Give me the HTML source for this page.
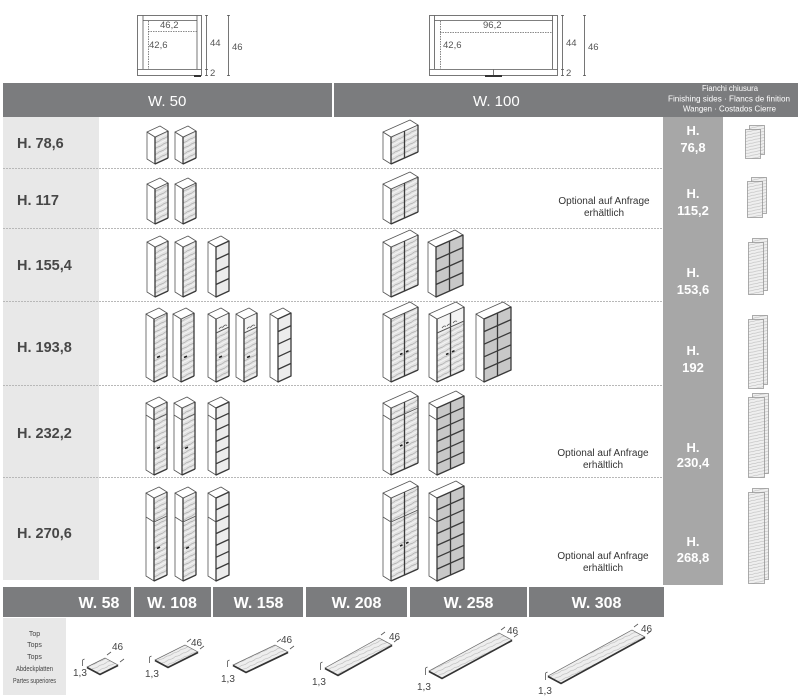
<!DOCTYPE html>
<html><head><meta charset="utf-8"><style>
html,body{margin:0;padding:0;background:#fff}
svg{display:block;font-family:"Liberation Sans",Arial,sans-serif}
.o{stroke:#555;stroke-width:.8;stroke-linejoin:round}
.e{stroke:#3a3a3a;stroke-width:1.3;fill:none}
.hd{stroke:#222;stroke-width:1.6;fill:none}
.dl{stroke:#555;stroke-width:.8;fill:none}
.dt{stroke:#666;stroke-width:.8;stroke-dasharray:1.5 1;fill:none}
.sep{stroke:#b8b8b8;stroke-width:1;stroke-dasharray:2 1}
.pn{stroke:#8c8c8c;stroke-width:.7}
.bd{stroke:#666;stroke-width:.7}
.be{stroke:#333;stroke-width:1.6;fill:none}
</style></head><body>
<svg width="800" height="696" viewBox="0 0 800 696" xmlns="http://www.w3.org/2000/svg">
<defs>
<pattern id="hw" width="8" height="5" patternUnits="userSpaceOnUse" patternTransform="rotate(-28)">
<rect width="8" height="5" fill="#e2e2e2"/>
<path d="M0 1.5C2 .5 4 2.5 8 1.5" stroke="#9a9a9a" stroke-width=".6" fill="none"/>
<path d="M0 3.8H8" stroke="#fafafa" stroke-width=".8"/>
</pattern>
<pattern id="ht" width="8" height="4" patternUnits="userSpaceOnUse" patternTransform="rotate(-25)">
<rect width="8" height="4" fill="#eeeeee"/>
<path d="M0 1.5C2 .5 4 2.5 8 1.5" stroke="#aaa" stroke-width=".5" fill="none"/>
</pattern>
<pattern id="hp" width="6" height="3" patternUnits="userSpaceOnUse" patternTransform="rotate(-12)">
<rect width="6" height="3" fill="#efefef"/>
<path d="M0 1.2C2 .6 4 1.8 6 1.2" stroke="#b3b3b3" stroke-width=".5" fill="none"/>
</pattern>
</defs>

<!-- top plan diagrams -->
<g class="dl">
<rect x="137.5" y="15.5" width="64" height="60" fill="none"/>
<path d="M143 15.5V69M197 15.5V69M143 20.5H197M137.5 69.5H201.5"/>
<path d="M206.5 15V76M205 15.5h3M205 69.5h3M205 75.5h3"/>
<path d="M228.5 15V76M227 15.5h3M227 75.5h3"/>
</g>
<path class="dt" d="M148 31.5H197M148.5 21V69"/>
<rect x="194" y="75" width="7" height="2" fill="#333"/>
<g class="dl">
<rect x="429.5" y="15.5" width="128" height="60" fill="none"/>
<path d="M434.5 15.5V69M552.5 15.5V69M434.5 20.5H552.5M429.5 69.5H557.5"/>
<path d="M562.5 15V76M561 15.5h3M561 69.5h3M561 75.5h3"/>
<path d="M584.5 15V76M583 15.5h3M583 75.5h3"/>
<path d="M493.5 69.5V75" />
</g>
<path class="dt" d="M440 32.5H552M440.5 21V69"/>
<rect x="485" y="75" width="17" height="2" fill="#333"/>
<g font-size="9.5" fill="#555">
<text x="160" y="28">46,2</text>
<text x="149" y="48">42,6</text>
<text x="210" y="46">44</text>
<text x="210" y="76">2</text>
<text x="232" y="50">46</text>
<text x="483" y="28">96,2</text>
<text x="443" y="48">42,6</text>
<text x="566" y="46">44</text>
<text x="566" y="76">2</text>
<text x="588" y="50">46</text>
</g>

<!-- header band -->
<rect x="3" y="83" width="795" height="34" fill="#7b7c7e"/>
<rect x="332" y="83" width="2" height="34" fill="#fff"/>
<text x="148" y="106" font-size="15" fill="#fff">W. 50</text>
<text x="473" y="106" font-size="15" fill="#fff">W. 100</text>
<g font-size="8" fill="#fff" text-anchor="middle">
<text x="730" y="91" textLength="56" lengthAdjust="spacingAndGlyphs">Fianchi chiusura</text>
<text x="729" y="101.5" textLength="122" lengthAdjust="spacingAndGlyphs">Finishing sides · Flancs de finition</text>
<text x="729.5" y="111.5" textLength="93" lengthAdjust="spacingAndGlyphs">Wangen · Costados Cierre</text>
</g>

<!-- left column & right column -->
<rect x="3" y="117" width="96" height="463" fill="#e8e8e8"/>
<rect x="663" y="117" width="60" height="468" fill="#a7a7a7"/>

<!-- separators -->
<path class="sep" d="M3 168.5H663M3 228.5H663M3 301.5H663M3 385.5H663M3 477.5H663"/>

<!-- row labels -->
<g font-size="14.5" font-weight="bold" fill="#474747">
<text x="17" y="148">H. 78,6</text>
<text x="17" y="205">H. 117</text>
<text x="17" y="270">H. 155,4</text>
<text x="17" y="352">H. 193,8</text>
<text x="17" y="438">H. 232,2</text>
<text x="17" y="538">H. 270,6</text>
</g>
<g font-size="13" font-weight="bold" fill="#fff" text-anchor="middle">
<text x="693" y="135">H.</text><text x="693" y="152">76,8</text>
<text x="693" y="198">H.</text><text x="693" y="215">115,2</text>
<text x="693" y="277">H.</text><text x="693" y="294">153,6</text>
<text x="693" y="355">H.</text><text x="693" y="372">192</text>
<text x="693" y="452">H.</text><text x="693" y="467">230,4</text>
<text x="693" y="546">H.</text><text x="693" y="562">268,8</text>
</g>
<g font-size="10" fill="#333" text-anchor="middle">
<text x="604" y="204">Optional auf Anfrage</text><text x="604" y="216">erhältlich</text>
<text x="603" y="456">Optional auf Anfrage</text><text x="603" y="468">erhältlich</text>
<text x="603" y="559">Optional auf Anfrage</text><text x="603" y="571">erhältlich</text>
</g>

<!-- ROW 1 V=27 my=164 -->
<g transform="translate(155 164)" class="o"><path d="M0 0L-8-5V-32L0-27Z" fill="#fff"/><path d="M0 0L13-6V-33L0-27Z" fill="url(#hw)"/><path d="M0-27L-8-32L5-38L13-33Z" fill="#fff"/><path class="e" d="M0 0V-27M13-6V-33M0 0L13-6"/></g>
<g transform="translate(183 164)" class="o"><path d="M0 0L-8-5V-32L0-27Z" fill="#fff"/><path d="M0 0L13-6V-33L0-27Z" fill="url(#hw)"/><path d="M0-27L-8-32L5-38L13-33Z" fill="#fff"/><path class="e" d="M0 0V-27M13-6V-33M0 0L13-6"/></g>
<g transform="translate(391 164)" class="o"><path d="M0 0L-8-5V-32L0-27Z" fill="#fff"/><path d="M0 0L27-12V-39L0-27Z" fill="url(#hw)"/><path d="M0-27L-8-32L19-44L27-39Z" fill="#fff"/><path class="e" d="M0 0V-27M27-12V-39M0 0L27-12M13.5-6V-33"/></g>

<!-- ROW 2 V=35 my=224 -->
<g transform="translate(155 224)" class="o"><path d="M0 0L-8-5V-40L0-35Z" fill="#fff"/><path d="M0 0L13-6V-41L0-35Z" fill="url(#hw)"/><path d="M0-35L-8-40L5-46L13-41Z" fill="#fff"/><path class="e" d="M0 0V-35M13-6V-41M0 0L13-6"/></g>
<g transform="translate(183 224)" class="o"><path d="M0 0L-8-5V-40L0-35Z" fill="#fff"/><path d="M0 0L13-6V-41L0-35Z" fill="url(#hw)"/><path d="M0-35L-8-40L5-46L13-41Z" fill="#fff"/><path class="e" d="M0 0V-35M13-6V-41M0 0L13-6"/></g>
<g transform="translate(391 224)" class="o"><path d="M0 0L-8-5V-40L0-35Z" fill="#fff"/><path d="M0 0L27-12V-47L0-35Z" fill="url(#hw)"/><path d="M0-35L-8-40L19-52L27-47Z" fill="#fff"/><path class="e" d="M0 0V-35M27-12V-47M0 0L27-12M13.5-6V-41"/></g>

<!-- ROW 3 V=50 my=297 -->
<g transform="translate(155 297)" class="o"><path d="M0 0L-8-5V-55L0-50Z" fill="#fff"/><path d="M0 0L13-6V-56L0-50Z" fill="url(#hw)"/><path d="M0-50L-8-55L5-61L13-56Z" fill="#fff"/><path class="e" d="M0 0V-50M13-6V-56M0 0L13-6"/></g>
<g transform="translate(183 297)" class="o"><path d="M0 0L-8-5V-55L0-50Z" fill="#fff"/><path d="M0 0L13-6V-56L0-50Z" fill="url(#hw)"/><path d="M0-50L-8-55L5-61L13-56Z" fill="#fff"/><path class="e" d="M0 0V-50M13-6V-56M0 0L13-6"/></g>
<g transform="translate(216 297)" class="o"><path d="M0 0L-8-5V-55L0-50Z" fill="#fff"/><path d="M0 0L13-6V-56L0-50Z" fill="#ececec"/><path d="M0-50L-8-55L5-61L13-56Z" fill="#fff"/><path class="e" d="M0 0L13-6V-56L0-50ZM0-12.5L13-18.5M0-25L13-31M0-37.5L13-43.5"/></g>
<g transform="translate(391 297)" class="o"><path d="M0 0L-8-5V-55L0-50Z" fill="#fff"/><path d="M0 0L27-12V-62L0-50Z" fill="url(#hw)"/><path d="M0-50L-8-55L19-67L27-62Z" fill="#fff"/><path class="e" d="M0 0V-50M27-12V-62M0 0L27-12M13.5-6V-56"/></g>
<g transform="translate(436 297)" class="o"><path d="M0 0L-8-5V-55L0-50Z" fill="#fff"/><path d="M0 0L27-12V-62L0-50Z" fill="#c8c8c8"/><path d="M0-50L-8-55L19-67L27-62Z" fill="#fff"/><path class="e" d="M0 0L27-12V-62L0-50ZM13.5-6V-56M0-12.5L27-24.5M0-25L27-37M0-37.5L27-49.5"/></g>

<!-- ROW 4 V=63 my=382 -->
<g transform="translate(154 382)" class="o"><path d="M0 0L-8-5V-68L0-63Z" fill="#fff"/><path d="M0 0L13-6V-69L0-63Z" fill="url(#hw)"/><path d="M0-63L-8-68L5-74L13-69Z" fill="#fff"/><path class="e" d="M0 0V-63M13-6V-69M0 0L13-6"/><path class="hd" d="M3-24.5l3-1.4"/></g>
<g transform="translate(181 382)" class="o"><path d="M0 0L-8-5V-68L0-63Z" fill="#fff"/><path d="M0 0L13-6V-69L0-63Z" fill="url(#hw)"/><path d="M0-63L-8-68L5-74L13-69Z" fill="#fff"/><path class="e" d="M0 0V-63M13-6V-69M0 0L13-6"/><path class="hd" d="M3-24.5l3-1.4"/></g>
<g transform="translate(216 382)" class="o"><path d="M0 0L-8-5V-68L0-63Z" fill="#fff"/><path d="M0 0L13-6V-69L0-63Z" fill="url(#hw)"/><path d="M0-49L13-55V-69L0-63Z" fill="#f3f3f3"/><path d="M0-63L-8-68L5-74L13-69Z" fill="#fff"/><path class="e" d="M0 0V-63M13-6V-69M0 0L13-6"/><path d="M0-49L13-55M3-53q2-3 4-1.5M7-55q2-3 4-1.5" fill="none"/><path class="hd" d="M3-24.5l3-1.4"/></g>
<g transform="translate(244 382)" class="o"><path d="M0 0L-8-5V-68L0-63Z" fill="#fff"/><path d="M0 0L13-6V-69L0-63Z" fill="url(#hw)"/><path d="M0-49L13-55V-69L0-63Z" fill="#f3f3f3"/><path d="M0-63L-8-68L5-74L13-69Z" fill="#fff"/><path class="e" d="M0 0V-63M13-6V-69M0 0L13-6"/><path d="M0-49L13-55M3-53q2-3 4-1.5M7-55q2-3 4-1.5" fill="none"/><path class="hd" d="M3-24.5l3-1.4"/></g>
<g transform="translate(278 382)" class="o"><path d="M0 0L-8-5V-68L0-63Z" fill="#fff"/><path d="M0 0L13-6V-69L0-63Z" fill="#ececec"/><path d="M0-63L-8-68L5-74L13-69Z" fill="#fff"/><path class="e" d="M0 0L13-6V-69L0-63ZM0-12.6L13-18.6M0-25.2L13-31.2M0-37.8L13-43.8M0-50.4L13-56.4"/></g>
<g transform="translate(391 382)" class="o"><path d="M0 0L-8-5V-68L0-63Z" fill="#fff"/><path d="M0 0L27-12V-75L0-63Z" fill="url(#hw)"/><path d="M0-63L-8-68L19-80L27-75Z" fill="#fff"/><path class="e" d="M0 0V-63M27-12V-75M0 0L27-12M13.5-6V-69"/><path class="hd" d="M9-27.5l2.5-1.1M15-30.2l2.5-1.1"/></g>
<g transform="translate(437 382)" class="o"><path d="M0 0L-8-5V-68L0-63Z" fill="#fff"/><path d="M0 0L27-12V-75L0-63Z" fill="url(#hw)"/><path d="M0-49L27-61V-75L0-63Z" fill="#f3f3f3"/><path d="M0-63L-8-68L19-80L27-75Z" fill="#fff"/><path class="e" d="M0 0V-63M27-12V-75M0 0L27-12M13.5-6V-69"/><path d="M0-49L27-61M5-54q2-3 4-1.5M10-56q2-3 4-1.5M16-59q2-3 4-1.5" fill="none"/><path class="hd" d="M9-27.5l2.5-1.1M15-30.2l2.5-1.1"/></g>
<g transform="translate(484 382)" class="o"><path d="M0 0L-8-5V-68L0-63Z" fill="#fff"/><path d="M0 0L27-12V-75L0-63Z" fill="#c8c8c8"/><path d="M0-63L-8-68L19-80L27-75Z" fill="#fff"/><path class="e" d="M0 0L27-12V-75L0-63ZM13.5-6V-69M0-12.6L27-24.6M0-25.2L27-37.2M0-37.8L27-49.8M0-50.4L27-62.4"/></g>

<!-- ROW 5 V=67 my=475 -->
<g transform="translate(154 475)" class="o"><path d="M0 0L-8-5V-72L0-67Z" fill="#fff"/><path d="M0 0L13-6V-73L0-67Z" fill="url(#hw)"/><path d="M0-67L-8-72L5-78L13-73Z" fill="#fff"/><path class="e" d="M0 0V-67M13-6V-73M0 0L13-6"/><path d="M-8-60L0-55L13-61" fill="none"/><path class="hd" d="M3-26.5l3-1.4"/></g>
<g transform="translate(182 475)" class="o"><path d="M0 0L-8-5V-72L0-67Z" fill="#fff"/><path d="M0 0L13-6V-73L0-67Z" fill="url(#hw)"/><path d="M0-67L-8-72L5-78L13-73Z" fill="#fff"/><path class="e" d="M0 0V-67M13-6V-73M0 0L13-6"/><path d="M-8-60L0-55L13-61" fill="none"/><path class="hd" d="M3-26.5l3-1.4"/></g>
<g transform="translate(216 475)" class="o"><path d="M0 0L-8-5V-72L0-67Z" fill="#fff"/><path d="M0 0L13-6V-73L0-67Z" fill="#ececec"/><path d="M0-67L-8-72L5-78L13-73Z" fill="#fff"/><path d="M-8-60L0-55" fill="none"/><path class="e" d="M0 0L13-6V-73L0-67ZM0-11.2L13-17.2M0-22.3L13-28.3M0-33.5L13-39.5M0-44.7L13-50.7M0-55.8L13-61.8"/></g>
<g transform="translate(391 475)" class="o"><path d="M0 0L-8-5V-72L0-67Z" fill="#fff"/><path d="M0 0L27-12V-79L0-67Z" fill="url(#hw)"/><path d="M0-67L-8-72L19-84L27-79Z" fill="#fff"/><path class="e" d="M0 0V-67M27-12V-79M0 0L27-12M13.5-6V-73"/><path d="M-8-60L0-55L27-67" fill="none"/><path class="hd" d="M9-29l2.5-1.1M15-31.7l2.5-1.1"/></g>
<g transform="translate(437 475)" class="o"><path d="M0 0L-8-5V-72L0-67Z" fill="#fff"/><path d="M0 0L27-12V-79L0-67Z" fill="#c8c8c8"/><path d="M0-67L-8-72L19-84L27-79Z" fill="#fff"/><path d="M-8-60L0-55" fill="none"/><path class="e" d="M0 0L27-12V-79L0-67ZM13.5-6V-73M0-11.2L27-23.2M0-22.3L27-34.3M0-33.5L27-45.5M0-44.7L27-56.7M0-55.8L27-67.8"/></g>

<!-- ROW 6 V=83 my=581 -->
<g transform="translate(154 581)" class="o"><path d="M0 0L-8-5V-88L0-83Z" fill="#fff"/><path d="M0 0L13-6V-89L0-83Z" fill="url(#hw)"/><path d="M0-83L-8-88L5-94L13-89Z" fill="#fff"/><path class="e" d="M0 0V-83M13-6V-89M0 0L13-6"/><path d="M-8-64L0-59L13-65" fill="none"/><path class="hd" d="M3-32.5l3-1.4"/></g>
<g transform="translate(183 581)" class="o"><path d="M0 0L-8-5V-88L0-83Z" fill="#fff"/><path d="M0 0L13-6V-89L0-83Z" fill="url(#hw)"/><path d="M0-83L-8-88L5-94L13-89Z" fill="#fff"/><path class="e" d="M0 0V-83M13-6V-89M0 0L13-6"/><path d="M-8-64L0-59L13-65" fill="none"/><path class="hd" d="M3-32.5l3-1.4"/></g>
<g transform="translate(216 581)" class="o"><path d="M0 0L-8-5V-88L0-83Z" fill="#fff"/><path d="M0 0L13-6V-89L0-83Z" fill="#ececec"/><path d="M0-83L-8-88L5-94L13-89Z" fill="#fff"/><path d="M-8-64L0-59" fill="none"/><path class="e" d="M0 0L13-6V-89L0-83ZM0-11.9L13-17.9M0-23.7L13-29.7M0-35.6L13-41.6M0-47.4L13-53.4M0-59.3L13-65.3M0-71.1L13-77.1"/></g>
<g transform="translate(391 581)" class="o"><path d="M0 0L-8-5V-88L0-83Z" fill="#fff"/><path d="M0 0L27-12V-95L0-83Z" fill="url(#hw)"/><path d="M0-83L-8-88L19-100L27-95Z" fill="#fff"/><path class="e" d="M0 0V-83M27-12V-95M0 0L27-12M13.5-6V-89"/><path d="M-8-64L0-59L27-71" fill="none"/><path class="hd" d="M9-35l2.5-1.1M15-37.7l2.5-1.1"/></g>
<g transform="translate(437 581)" class="o"><path d="M0 0L-8-5V-88L0-83Z" fill="#fff"/><path d="M0 0L27-12V-95L0-83Z" fill="#c8c8c8"/><path d="M0-83L-8-88L19-100L27-95Z" fill="#fff"/><path d="M-8-64L0-59" fill="none"/><path class="e" d="M0 0L27-12V-95L0-83ZM13.5-6V-89M0-11.9L27-23.9M0-23.7L27-35.7M0-35.6L27-47.6M0-47.4L27-59.4M0-59.3L27-71.3M0-71.1L27-83.1"/></g>

<!-- finishing side panels -->
<g transform="translate(745 125)"><rect x="4.5" y=".5" width="15" height="29" fill="url(#hp)" class="pn"/><rect x=".5" y="4.5" width="15" height="29" fill="url(#hp)" class="pn"/></g>
<g transform="translate(747 177)"><rect x="4.5" y=".5" width="15" height="36" fill="url(#hp)" class="pn"/><rect x=".5" y="4.5" width="15" height="36" fill="url(#hp)" class="pn"/></g>
<g transform="translate(748 238)"><rect x="4.5" y=".5" width="15" height="52" fill="url(#hp)" class="pn"/><rect x=".5" y="4.5" width="15" height="52" fill="url(#hp)" class="pn"/></g>
<g transform="translate(748 315)"><rect x="4.5" y=".5" width="15" height="69" fill="url(#hp)" class="pn"/><rect x=".5" y="4.5" width="15" height="69" fill="url(#hp)" class="pn"/></g>
<g transform="translate(748 393)"><rect x="4.5" y=".5" width="16" height="80" fill="url(#hp)" class="pn"/><rect x=".5" y="4.5" width="16" height="80" fill="url(#hp)" class="pn"/></g>
<g transform="translate(748 488)"><rect x="4.5" y=".5" width="16" height="91" fill="url(#hp)" class="pn"/><rect x=".5" y="4.5" width="16" height="91" fill="url(#hp)" class="pn"/></g>

<!-- bottom width band -->
<g fill="#7b7c7e">
<rect x="3" y="587" width="128" height="30"/>
<rect x="134" y="587" width="77" height="30"/>
<rect x="213" y="587" width="90" height="30"/>
<rect x="306" y="587" width="101" height="30"/>
<rect x="410" y="587" width="117" height="30"/>
<rect x="529" y="587" width="135" height="30"/>
</g>
<g font-size="16" font-weight="bold" fill="#fff" text-anchor="middle">
<text x="99" y="608">W. 58</text>
<text x="172" y="608">W. 108</text>
<text x="258.5" y="608">W. 158</text>
<text x="356.5" y="608">W. 208</text>
<text x="468.5" y="608">W. 258</text>
<text x="596.5" y="608">W. 308</text>
</g>

<!-- tops label column -->
<rect x="3" y="618" width="63" height="77" fill="#e8e8e8"/>
<g font-size="7" fill="#444" text-anchor="middle">
<text x="34.5" y="636">Top</text>
<text x="34.5" y="647">Tops</text>
<text x="34.5" y="659">Tops</text>
<text x="34.5" y="671" textLength="37" lengthAdjust="spacingAndGlyphs">Abdeckplatten</text>
<text x="34.5" y="683" textLength="43" lengthAdjust="spacingAndGlyphs">Partes superiores</text>
</g>

<!-- top boards -->
<g class="bd">
<polygon points="87,667 100,674 118,665 105,658" fill="url(#ht)"/>
<polygon points="155,660 168,667 198,652 185,645" fill="url(#ht)"/>
<polygon points="233,665 246,672 288,652 275,645" fill="url(#ht)"/>
<polygon points="325,668 338,675 392,645 379,638" fill="url(#ht)"/>
<polygon points="429,671 442,678 512,640 499,633" fill="url(#ht)"/>
<polygon points="548,676 561,683 645,637 632,630" fill="url(#ht)"/>
</g>
<path class="be" d="M87 667.5L100 674.5L118 665.5M155 660.5L168 667.5L198 652.5M233 665.5L246 672.5L288 652.5M325 668.5L338 675.5L392 645.5M429 671.5L442 678.5L512 640.5M548 676.5L561 683.5L645 637.5"/>
<path class="dl" d="M107 655l4-3M120 662l4-3M187 642l4-3M200 649l4-3M277 642l4-3M290 649l4-3M381 635l4-3M394 642l4-3M501 630l4-3M514 637l4-3M634 627l4-3M647 634l4-3"/>
<path class="dl" d="M82.5 660V666M82.5 660l2-1M149.5 657V663M149.5 657l2-1M227.5 661V667M227.5 661l2-1M320.5 663V670M320.5 663l2-1M425.5 668V675M425.5 668l2-1M545.5 673V680M545.5 673l2-1"/>
<g font-size="10" fill="#444">
<text x="112" y="650">46</text><text x="73" y="676">1,3</text>
<text x="191" y="646">46</text><text x="145" y="677">1,3</text>
<text x="281" y="643">46</text><text x="221" y="682">1,3</text>
<text x="389" y="640">46</text><text x="312" y="685">1,3</text>
<text x="507" y="634">46</text><text x="417" y="690">1,3</text>
<text x="641" y="632">46</text><text x="538" y="694">1,3</text>
</g>
</svg>
</body></html>
